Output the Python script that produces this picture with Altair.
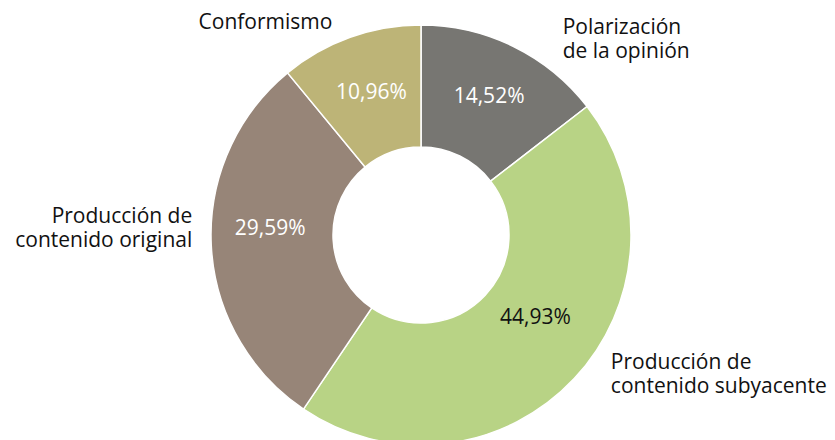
import altair as alt
import pandas as pd

categories = [
    "Polarización de la opinión",
    "Producción de contenido subyacente",
    "Producción de contenido original",
    "Conformismo",
]
outer_labels = [
    "Polarización\nde la opinión",
    "Producción de\ncontenido subyacente",
    "Producción de\ncontenido original",
    "Conformismo",
]
values = [14.52, 44.93, 29.59, 10.96]
pct_labels = ["14,52%", "44,93%", "29,59%", "10,96%"]
colors = ["#777672", "#b8d385", "#978578", "#bdb477"]

df = pd.DataFrame({
    "idx": list(range(len(categories))),
    "cat": categories,
    "outer": outer_labels,
    "value": values,
    "pct": pct_labels,
})

CX, CY = 421, 235
FONT = "Open Sans"
FS = 21

base = (
    alt.Chart(df)
    .transform_joinaggregate(total="sum(value)")
    .transform_window(cum="sum(value)", sort=[alt.SortField("idx")], frame=[None, 0])
    .transform_calculate(
        a0="(datum.cum - datum.value) / datum.total * 2 * PI",
        a1="datum.cum / datum.total * 2 * PI",
        am="(datum.cum - datum.value / 2) / datum.total * 2 * PI",
    )
)

arcs = base.mark_arc(innerRadius=88, outerRadius=210, stroke="white", strokeWidth=1.5).encode(
    theta=alt.Theta("a0:Q", scale=None),
    theta2="a1:Q",
    color=alt.Color("cat:N", scale=alt.Scale(domain=categories, range=colors), legend=None),
    x=alt.value(CX),
    y=alt.value(CY),
)

# inner percentage labels: (dx, dy, color)
inner_style = {
    categories[0]: (2, -3, "white"),
    categories[1]: (5, -20, "#111111"),
    categories[2]: (-1, -13, "white"),
    categories[3]: (1, -1, "white"),
}
# outer category labels: (align, dx, dy)
outer_style = {
    categories[0]: ("left", 47, -14),
    categories[1]: ("left", 33, -19),
    categories[2]: ("right", -14, -28),
    categories[3]: ("right", -16, -10),
}

layers = [arcs]
for cat in categories:
    dx, dy, col = inner_style[cat]
    layers.append(
        base.transform_filter(alt.datum.cat == cat)
        .mark_text(radius=150, dx=dx, dy=dy, font=FONT, fontSize=FS, color=col, baseline="middle", align="center")
        .encode(theta=alt.Theta("am:Q", scale=None), text="pct:N", x=alt.value(CX), y=alt.value(CY))
    )
    al, odx, ody = outer_style[cat]
    layers.append(
        base.transform_filter(alt.datum.cat == cat)
        .mark_text(radius=215, dx=odx, dy=ody, font=FONT, fontSize=FS, color="#111111",
                   baseline="middle", align=al, lineBreak="\n", lineHeight=24)
        .encode(theta=alt.Theta("am:Q", scale=None), text="outer:N", x=alt.value(CX), y=alt.value(CY))
    )

chart = (
    alt.layer(*layers)
    .properties(width=835, height=440, autosize=alt.AutoSizeParams(type="none"), padding=0)
    .configure_view(stroke=None)
)

chart.save("out.html", embed_options={"renderer": "svg", "actions": False})
